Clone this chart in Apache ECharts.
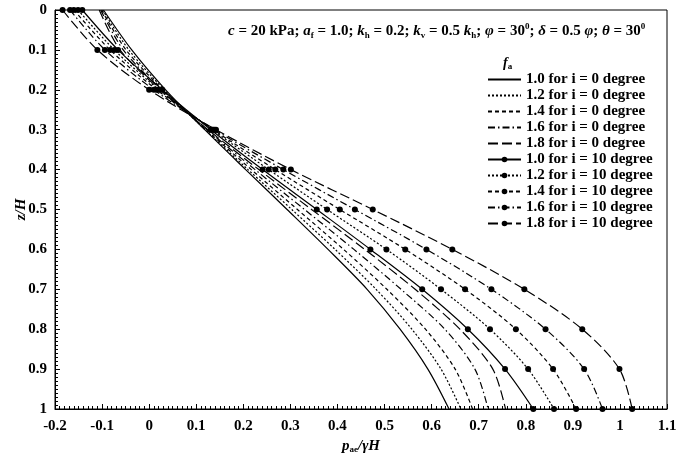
<!DOCTYPE html>
<html>
<head>
<meta charset="utf-8">
<script src="https://cdn.jsdelivr.net/npm/echarts@6/dist/echarts.min.js"></script>
<style>
  html, body { margin: 0; padding: 0; background: #fff; }
  #chart { width: 685px; height: 456px; }
</style>
</head>
<body>
<div id="chart"></div>
<script>
// depth ratio z/H (vertical axis, points every 0.1)
const depth = [0, 0.1, 0.2, 0.3, 0.4, 0.5, 0.6, 0.7, 0.8, 0.9, 1.0];
const faValues = ['1.0', '1.2', '1.4', '1.6', '1.8'];

// p_ae / gamma H, i = 0 degree
const i0fa10 = [-0.097, -0.037, 0.035, 0.118, 0.205, 0.293, 0.380, 0.463, 0.533, 0.592, 0.637];
const i0fa12 = [-0.099, -0.043, 0.032, 0.119, 0.210, 0.303, 0.395, 0.482, 0.558, 0.620, 0.662];
const i0fa14 = [-0.101, -0.049, 0.029, 0.121, 0.217, 0.315, 0.413, 0.505, 0.587, 0.650, 0.687];
const i0fa16 = [-0.103, -0.055, 0.026, 0.123, 0.225, 0.330, 0.435, 0.535, 0.628, 0.692, 0.720];
const i0fa18 = [-0.106, -0.062, 0.023, 0.125, 0.233, 0.345, 0.458, 0.565, 0.660, 0.730, 0.757];

// p_ae / gamma H, i = 10 degree
const i10fa10 = [-0.142, -0.066, 0.028, 0.131, 0.241, 0.356, 0.470, 0.580, 0.677, 0.756, 0.816];
const i10fa12 = [-0.151, -0.074, 0.021, 0.134, 0.254, 0.378, 0.504, 0.620, 0.724, 0.805, 0.860];
const i10fa14 = [-0.160, -0.083, 0.016, 0.136, 0.268, 0.405, 0.544, 0.671, 0.779, 0.858, 0.907];
const i10fa16 = [-0.168, -0.094, 0.010, 0.139, 0.285, 0.437, 0.589, 0.727, 0.842, 0.924, 0.963];
const i10fa18 = [-0.184, -0.110, 0.000, 0.142, 0.301, 0.475, 0.644, 0.797, 0.920, 0.999, 1.026];

const i0Sets = [i0fa10, i0fa12, i0fa14, i0fa16, i0fa18];
const i10Sets = [i10fa10, i10fa12, i10fa14, i10fa16, i10fa18];

const dashes = ['solid', [2, 2], [4, 3], [7, 3, 1.5, 3], [10, 4]];
const FONT = 'Liberation Serif';

function font(size, style) {
  return { fontFamily: FONT, fontWeight: 'bold', fontSize: size, fontStyle: style || 'normal', color: '#000' };
}

let series = [];
let legendData = [];
i0Sets.forEach((vals, k) => {
  let name = faValues[k] + ' for i = 0 degree';
  series.push({
    name: name,
    type: 'line',
    smooth: 0.3,
    symbol: 'none',
    data: vals.map((v, j) => [v, depth[j]]),
    lineStyle: { color: '#000', width: 1.2, type: dashes[k] },
    itemStyle: { color: '#000' }
  });
  // no marker in the legend for the i = 0 lines
  legendData.push({ name: name, itemStyle: { opacity: 0 } });
});
i10Sets.forEach((vals, k) => {
  let name = faValues[k] + ' for i = 10 degree';
  series.push({
    name: name,
    type: 'line',
    smooth: 0.3,
    symbol: 'circle',
    symbolSize: 6,
    data: vals.map((v, j) => [v, depth[j]]),
    lineStyle: { color: '#000', width: 1.2, type: dashes[k] },
    itemStyle: { color: '#000' }
  });
  legendData.push({ name: name });
});

const sub = Object.assign(font(9), { verticalAlign: 'bottom', lineHeight: 9 });
const sup = Object.assign(font(9), { verticalAlign: 'top', lineHeight: 9 });

var chart = echarts.init(document.getElementById('chart'));
var chartOptions = {
  animation: false,
  grid: {
    left: 55, right: 18, top: 10, bottom: 47,
    outerBoundsMode: 'none',
    show: true, borderColor: '#000', borderWidth: 1
  },

  xAxis: {
    type: 'value',
    min: -0.2, max: 1.1, interval: 0.1,
    name: '{it|p}{sub|ae}{it|/γH}',
    nameLocation: 'middle',
    nameGap: 30,
    nameTextStyle: {
      rich: { it: font(15, 'italic'), sub: sub }
    },
    axisLine: { onZero: false, lineStyle: { color: '#000', width: 1 } },
    axisTick: { inside: true, length: 5, lineStyle: { color: '#000' } },
    minorTick: { show: true, splitNumber: 10, length: 3, lineStyle: { color: '#000' } },
    splitLine: { show: false },
    axisLabel: Object.assign(font(15), { margin: 10 })
  },

  yAxis: {
    type: 'value',
    inverse: true,
    min: 0, max: 1, interval: 0.1,
    name: 'z/H',
    nameLocation: 'middle',
    nameRotate: 90,
    nameGap: 26,
    nameMoveOverlap: false,
    nameTextStyle: font(15, 'italic'),
    axisLine: { onZero: false, lineStyle: { color: '#000', width: 1 } },
    axisTick: { inside: true, length: 5, lineStyle: { color: '#000' } },
    minorTick: { show: true, splitNumber: 10, length: 3, lineStyle: { color: '#000' } },
    splitLine: { show: false },
    axisLabel: Object.assign(font(15), { margin: 8 })
  },

  legend: {
    orient: 'vertical',
    left: 487,
    top: 72,
    padding: 0,
    itemWidth: 33,
    itemHeight: 7,
    itemGap: 1,
    textStyle: font(15),
    data: legendData
  },

  graphic: [
    {
      type: 'text',
      x: 228,
      y: 22,
      style: {
        text: '{it|c} = 20 kPa; {it|a}{sub|f} = 1.0; {it|k}{sub|h} = 0.2; {it|k}{sub|v} = 0.5 {it|k}{sub|h}; {it|φ} = 30{sup|0}; {it|δ} = 0.5 {it|φ}; {it|θ} = 30{sup|0}',
        fontFamily: FONT, fontWeight: 'bold', fontSize: 15, fill: '#000',
        lineHeight: 18,
        rich: {
          it: Object.assign(font(15, 'italic'), { lineHeight: 18 }),
          sub: sub,
          sup: sup
        }
      }
    },
    {
      type: 'text',
      x: 503,
      y: 55,
      style: {
        text: '{it|f}{sub|a}',
        fontFamily: FONT, fontWeight: 'bold', fontSize: 14, fill: '#000',
        lineHeight: 16,
        rich: {
          it: Object.assign(font(14, 'italic'), { lineHeight: 16 }),
          sub: sub
        }
      }
    }
  ],

  series: series
};
chart.setOption(chartOptions);
</script>
</body>
</html>
